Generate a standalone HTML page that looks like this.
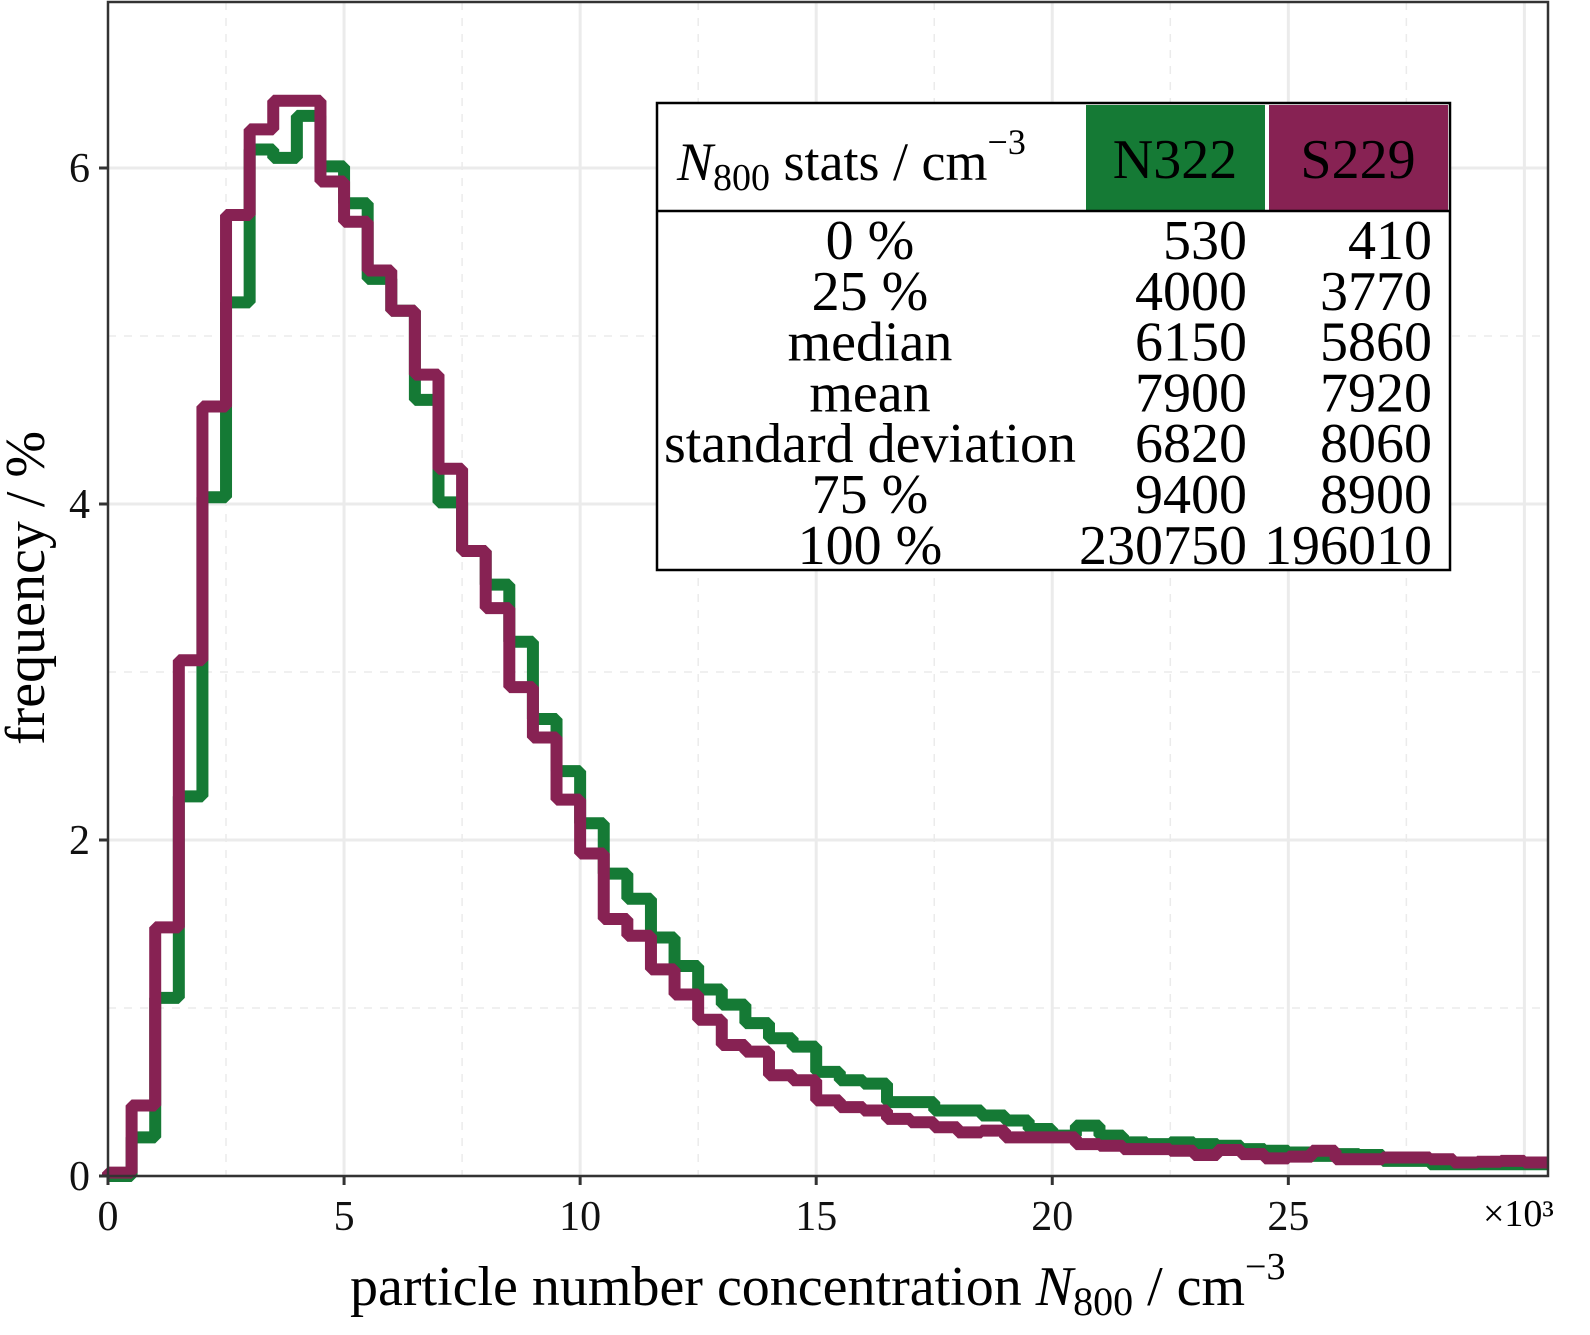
<!DOCTYPE html>
<html><head><meta charset="utf-8"><style>
html,body{margin:0;padding:0;background:#fff;width:1590px;height:1335px;overflow:hidden}
svg{display:block}
text{font-family:"Liberation Serif",serif}
</style></head><body>
<svg id="chart" width="1590" height="1335" viewBox="0 0 1590 1335" xmlns="http://www.w3.org/2000/svg">
<g id="grid"></g>
<g id="series"></g>
<g id="axes"></g>
<g id="table"></g>
<g id="labels">
<text x="677" y="180" font-size="54"><tspan font-style="italic">N</tspan><tspan font-size="38" dy="10">800</tspan><tspan dy="-10"> stats / cm</tspan><tspan font-size="36" dy="-26">−3</tspan></text>
<text x="1175" y="178" font-size="56" text-anchor="middle">N322</text>
<text x="1358" y="178" font-size="56" text-anchor="middle">S229</text>
<text x="1483" y="1226" font-size="38">×10³</text>
<text x="350" y="1305" font-size="56">particle number concentration <tspan font-style="italic">N</tspan><tspan font-size="40" dy="10">800</tspan><tspan dy="-10"> / cm</tspan><tspan font-size="38" dy="-26">−3</tspan></text>
<text transform="translate(44,588) rotate(-90)" font-size="56" text-anchor="middle">frequency / %</text>
</g>
</svg>
<script>
const binWidth = 500;
const n322Freq = [0,0.23,1.06,2.26,4.04,5.20,6.11,6.06,6.31,6.01,5.79,5.34,5.15,4.62,4.01,3.72,3.52,3.18,2.72,2.41,2.10,1.80,1.65,1.42,1.25,1.11,1.02,0.91,0.82,0.77,0.62,0.57,0.55,0.44,0.44,0.39,0.39,0.36,0.33,0.28,0.24,0.30,0.24,0.20,0.19,0.20,0.19,0.18,0.16,0.15,0.14,0.12,0.13,0.125,0.09,0.09,0.07,0.07,0.07,0.07,0.07];
const s229Freq = [0.02,0.42,1.48,3.07,4.58,5.72,6.23,6.40,6.40,5.92,5.68,5.39,5.15,4.77,4.21,3.72,3.38,2.91,2.61,2.24,1.92,1.53,1.43,1.23,1.08,0.93,0.78,0.74,0.60,0.57,0.45,0.41,0.39,0.34,0.32,0.29,0.26,0.27,0.23,0.23,0.23,0.19,0.18,0.16,0.16,0.15,0.125,0.155,0.13,0.105,0.115,0.15,0.10,0.10,0.11,0.11,0.10,0.08,0.085,0.09,0.08];
const xTicks = [0,5,10,15,20,25];
const xTickLabels = ["0","5","10","15","20","25"];
const yTicks = [0,2,4,6];
const yTickLabels = ["0","2","4","6"];
const statLabels = ["0 %","25 %","median","mean","standard deviation","75 %","100 %"];
const n322Stats = ["530","4000","6150","7900","6820","9400","230750"];
const s229Stats = ["410","3770","5860","7920","8060","8900","196010"];

const X0=108, X1=1548, Y0=1176, Y1=2;
const xMax=30.5, yMax=(Y0-Y1)/168;
const sx = v => X0 + v/xMax*(X1-X0);
const sy = v => Y0 - v/yMax*(Y0-Y1);
const NS="http://www.w3.org/2000/svg";
function mk(tag, attrs, parent){const e=document.createElementNS(NS,tag);for(const k in attrs)e.setAttribute(k,attrs[k]);parent.appendChild(e);return e;}

const grid=document.getElementById('grid');
for(let v=2.5; v<xMax; v+=5){const l=mk('line',{x1:sx(v),x2:sx(v),y1:Y1,y2:Y0,stroke:'#ebebeb','stroke-width':1.5,'stroke-dasharray':'8,8'},grid);

}
for(let v=1; v<yMax; v+=2){const l=mk('line',{x1:X0,x2:X1,y1:sy(v),y2:sy(v),stroke:'#ebebeb','stroke-width':1.5,'stroke-dasharray':'8,8'},grid);

}
for(let v=5; v<=30; v+=5){const l=mk('line',{x1:sx(v),x2:sx(v),y1:Y1,y2:Y0,stroke:'#ebebeb','stroke-width':3},grid);

}
for(const v of yTicks){const l=mk('line',{x1:X0,x2:X1,y1:sy(v),y2:sy(v),stroke:'#ebebeb','stroke-width':3},grid);

}

function stepPath(arr){
  let d='M'+sx(0)+','+sy(0);
  arr.forEach((v,i)=>{const a=i*binWidth/1000, b=(i+1)*binWidth/1000;
    d+=' L'+sx(a)+','+sy(v)+' L'+Math.min(sx(b),X1)+','+sy(v);});
  return d;
}
const series=document.getElementById('series');
const pg=mk('path',{d:stepPath(n322Freq),fill:'none',stroke:'#157a35','stroke-width':12,'stroke-linejoin':'bevel'},series);


const pp=mk('path',{d:stepPath(s229Freq),fill:'none',stroke:'#872253','stroke-width':12,'stroke-linejoin':'bevel'},series);



const axes=document.getElementById('axes');
const box=mk('rect',{x:X0,y:Y1,width:X1-X0,height:Y0-Y1,fill:'none',stroke:'#333','stroke-width':2.5},axes);


xTicks.forEach((v,i)=>{
  const t=mk('line',{x1:sx(v),x2:sx(v),y1:Y0,y2:Y0+9,stroke:'#333','stroke-width':3},axes);
  
  
  const tx=mk('text',{x:sx(v),y:1230,'text-anchor':'middle','font-size':42,fill:'#111'},axes);
  tx.textContent=xTickLabels[i];
  
  
});
yTicks.forEach((v,i)=>{
  const t=mk('line',{x1:X0-9,x2:X0,y1:sy(v),y2:sy(v),stroke:'#333','stroke-width':3},axes);
  
  
  const tx=mk('text',{x:90,y:sy(v)+14,'text-anchor':'end','font-size':42,fill:'#111'},axes);
  tx.textContent=yTickLabels[i];
  
  
});
const tbl=document.getElementById('table');
const bx=mk('rect',{x:657,y:103,width:793,height:467,fill:'#fff',stroke:'#000','stroke-width':2.5},tbl);


const g1=mk('rect',{x:1086,y:105,width:179,height:105,fill:'#157a35'},tbl);


const g2=mk('rect',{x:1269,y:105,width:179,height:105,fill:'#872253'},tbl);


const hl=mk('line',{x1:657,x2:1450,y1:211,y2:211,stroke:'#000','stroke-width':2.5},tbl);


statLabels.forEach((s,i)=>{
  const y=259+i*50.8;
  const a=mk('text',{x:870,y:y,'text-anchor':'middle','font-size':56,fill:'#000'},tbl);a.textContent=s;
  
  
  const b=mk('text',{x:1247,y:y,'text-anchor':'end','font-size':56,fill:'#000'},tbl);b.textContent=n322Stats[i];
  
  
  const c=mk('text',{x:1432,y:y,'text-anchor':'end','font-size':56,fill:'#000'},tbl);c.textContent=s229Stats[i];
  
  
});
</script>
</body></html>
